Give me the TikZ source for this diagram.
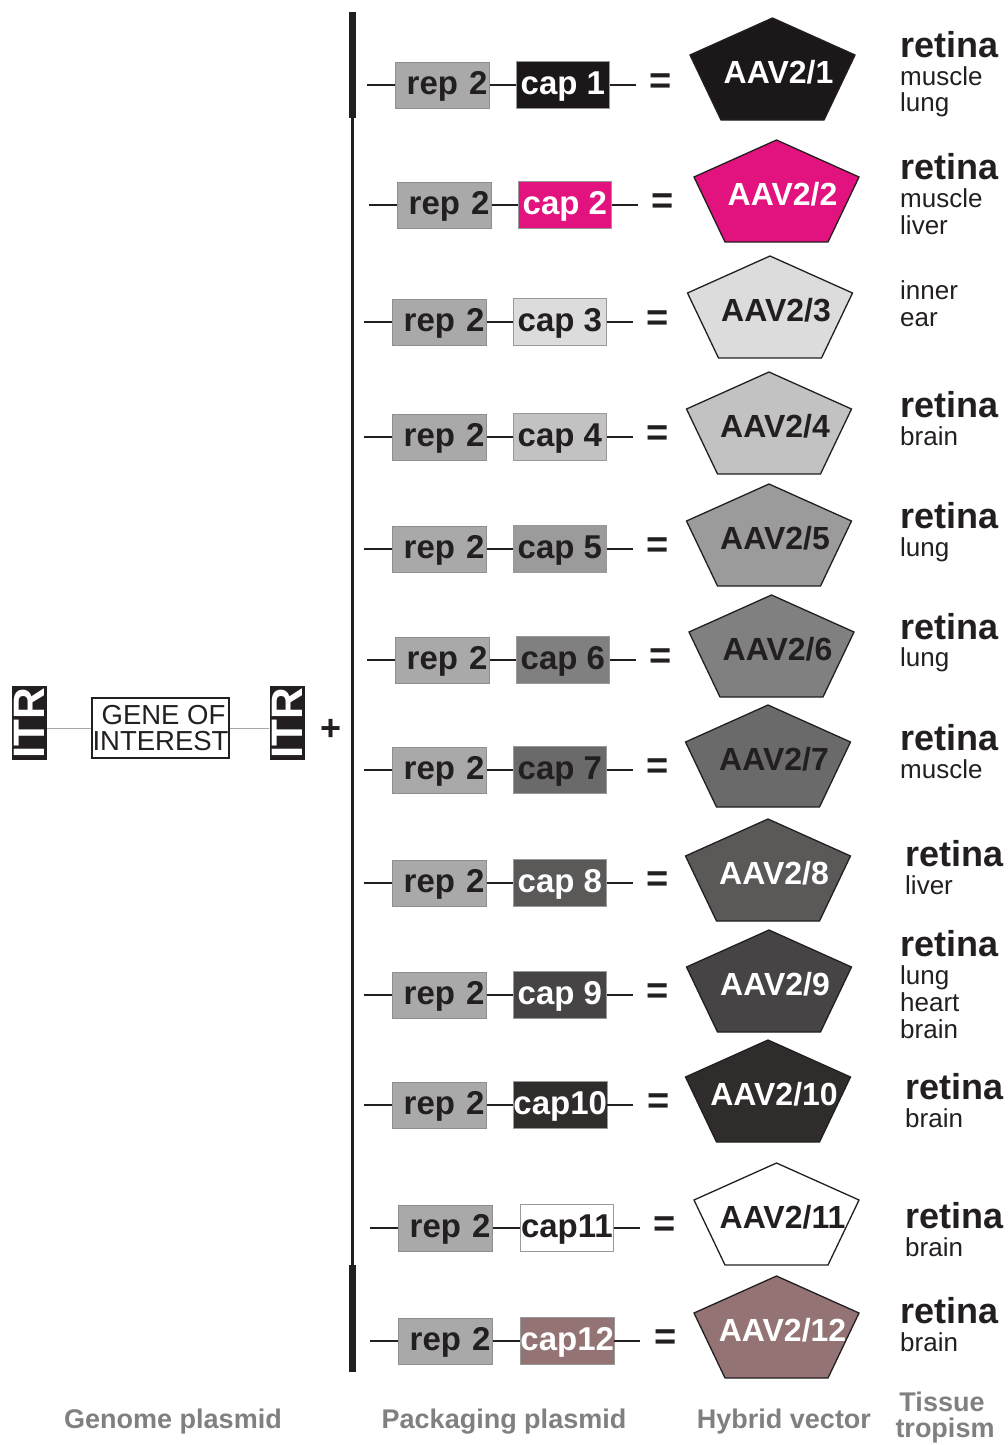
\documentclass[tikz,border=0pt]{standalone}
\usepackage{fontspec}
\setmainfont{Liberation Sans}
\usetikzlibrary{calc}

\definecolor{ink}{HTML}{231F20}
\definecolor{repgray}{HTML}{A9A9A9}
\definecolor{repedge}{HTML}{8E8E8E}
\definecolor{labelgray}{HTML}{808080}
\definecolor{cA}{HTML}{1C1819}
\definecolor{cB}{HTML}{E2137E}
\definecolor{cC}{HTML}{DCDCDC}
\definecolor{cD}{HTML}{C2C2C2}
\definecolor{cE}{HTML}{9B9B9B}
\definecolor{cF}{HTML}{808080}
\definecolor{cG}{HTML}{6A6A6A}
\definecolor{cH}{HTML}{5B5858}
\definecolor{cI}{HTML}{474445}
\definecolor{cJ}{HTML}{302C2B}
\definecolor{cK}{HTML}{FFFFFF}
\definecolor{cL}{HTML}{937373}

\newcommand\fs[1]{\fontsize{#1}{#1}\selectfont}

\tikzset{
  repbox/.style={draw=repedge, line width=0.8pt, fill=repgray, text=ink,
    minimum width=94pt, minimum height=46pt, inner sep=0pt,
    text width=90pt, align=right, text depth=4pt, font=\bfseries\fs{33}},
  capbox/.style={draw=black!40, line width=0.8pt,
    minimum width=93pt, minimum height=47pt, inner sep=0pt,
    text depth=4pt, font=\bfseries\fs{33}},
  wire/.style={draw=ink, line width=1.8pt},
  eqsign/.style={text=ink, inner sep=0pt, font=\bfseries\fs{38}},
  pent/.style={draw=ink, line width=1.3pt, line join=miter},
  vlabel/.style={inner sep=0pt, font=\bfseries\fs{32}},
  tisbig/.style={text=ink, inner sep=0pt, font=\bfseries\fs{36}},
  tissmall/.style={text=ink, inner sep=0pt, font=\fs{26}},
  itr/.style={fill=ink, text=white, rotate=90, inner sep=0pt,
    minimum width=74pt, minimum height=35pt, font=\bfseries\fs{44}},
  foot/.style={text=labelgray, inner sep=0pt, font=\bfseries\fs{27}},
}

% one packaging-plasmid row with its hybrid vector:
% #1 index, #2 row y, #3 rep left x, #4 cap left x, #5 capsid colour,
% #6 cap label, #7 text colour, #8 pentagon centre x, #9 pentagon top y
\newcommand\vrow[9]{%
  \node[repbox, anchor=west] (rep#1) at (#3,#2) {rep 2};
  \node[capbox, fill=#5, text=#7, anchor=west] (cap#1) at (#4,#2) {#6};
  \coordinate (in#1) at ($(rep#1.west)+(-28,0)$);
  \coordinate (out#1) at ($(cap#1.east)+(26,0)$);
  \draw[wire] (in#1) -- (rep#1.west);
  \draw[wire] (rep#1.east) -- (cap#1.west);
  \draw[wire] (cap#1.east) -- (out#1);
  \node[eqsign] (eq#1) at ($(cap#1.east)+(51,-1)$) {=};
  \draw[pent, fill=#5] (#8,#9) -- ++(82.5,37) -- ++(-31,65) -- ++(-103,0)
    -- ++(-31,-65) -- cycle;
  \node[vlabel, text=#7] (aav#1) at (#8+6,#9+54) {AAV2/#1};
}

\begin{document}
\begin{tikzpicture}[x=1pt, y=-1pt]
\useasboundingbox (0,0) rectangle (1007,1445);

% genome plasmid
\node[itr] (itrL) at (29.5,723) {ITR};
\node[draw=ink, line width=1.5pt, minimum width=137pt, minimum height=60pt,
  inner sep=0pt, align=center, text=ink, font=\fs{27.5}] (goi) at (160.5,728)
  {\hspace*{6pt}GENE OF\\[-2pt]INTEREST};
\node[itr] (itrR) at (287,723) {ITR};
\draw[labelgray!70, line width=1pt] (itrL.south |- goi.west) -- (goi.west);
\draw[labelgray!70, line width=1pt] (goi.east) -- (itrR.north |- goi.east);
\node[text=ink, inner sep=0pt, font=\bfseries\fs{36}] (plus) at (331,730) {+};

% bracket of the packaging plasmids
\fill[ink] (349,12) rectangle (356,118);
\fill[ink] (350.5,118) rectangle (354,1265);
\fill[ink] (349,1265) rectangle (356,1372);

\vrow{1}{85}{395}{516}{cA}{cap 1}{white}{772.5}{18}
\vrow{2}{205}{397}{518}{cB}{cap 2}{white}{776.5}{140}
\vrow{3}{322}{392}{513}{cC}{cap 3}{ink}{770}{256}
\vrow{4}{437}{392}{513}{cD}{cap 4}{ink}{769}{372}
\vrow{5}{549}{392}{513}{cE}{cap 5}{ink}{769}{484}
\vrow{6}{660}{395}{516}{cF}{cap 6}{ink}{771.5}{595}
\vrow{7}{770}{392}{513}{cG}{cap 7}{ink}{768}{705}
\vrow{8}{883}{392}{513}{cH}{cap 8}{white}{768}{819}
\vrow{9}{995}{392}{513}{cI}{cap 9}{white}{769}{930}
\vrow{10}{1105}{392}{513}{cJ}{cap10}{white}{768}{1040}
\vrow{11}{1228}{398}{520}{cK}{cap11}{ink}{776.5}{1163}
\vrow{12}{1341}{398}{520}{cL}{cap12}{white}{776.5}{1276}

% tissue tropism
\node[tisbig, anchor=base west] (t1a) at (900,57) {retina};
\node[tissmall, anchor=base west] (t1b) at (900,85) {muscle};
\node[tissmall, anchor=base west] (t1c) at (900,111) {lung};

\node[tisbig, anchor=base west] (t2a) at (900,179) {retina};
\node[tissmall, anchor=base west] (t2b) at (900,207) {muscle};
\node[tissmall, anchor=base west] (t2c) at (900,234) {liver};

\node[tissmall, anchor=base west] (t3a) at (900,299) {inner};
\node[tissmall, anchor=base west] (t3b) at (900,326) {ear};

\node[tisbig, anchor=base west] (t4a) at (900,417) {retina};
\node[tissmall, anchor=base west] (t4b) at (900,445) {brain};

\node[tisbig, anchor=base west] (t5a) at (900,528) {retina};
\node[tissmall, anchor=base west] (t5b) at (900,556) {lung};

\node[tisbig, anchor=base west] (t6a) at (900,639) {retina};
\node[tissmall, anchor=base west] (t6b) at (900,666) {lung};

\node[tisbig, anchor=base west] (t7a) at (900,750) {retina};
\node[tissmall, anchor=base west] (t7b) at (900,778) {muscle};

\node[tisbig, anchor=base west] (t8a) at (905,866) {retina};
\node[tissmall, anchor=base west] (t8b) at (905,894) {liver};

\node[tisbig, anchor=base west] (t9a) at (900,956) {retina};
\node[tissmall, anchor=base west] (t9b) at (900,984) {lung};
\node[tissmall, anchor=base west] (t9c) at (900,1011) {heart};
\node[tissmall, anchor=base west] (t9d) at (900,1038) {brain};

\node[tisbig, anchor=base west] (t10a) at (905,1099) {retina};
\node[tissmall, anchor=base west] (t10b) at (905,1127) {brain};

\node[tisbig, anchor=base west] (t11a) at (905,1228) {retina};
\node[tissmall, anchor=base west] (t11b) at (905,1256) {brain};

\node[tisbig, anchor=base west] (t12a) at (900,1323) {retina};
\node[tissmall, anchor=base west] (t12b) at (900,1351) {brain};

% column captions
\node[foot] (capGenome) at (173,1422) {Genome plasmid};
\node[foot] (capPack) at (504,1422) {Packaging plasmid};
\node[foot] (capHybrid) at (784,1422) {Hybrid vector};
\node[foot] (capTissue) at (942,1402) {Tissue};
\node[foot] (capTrop) at (945,1431) {tropism};
\end{tikzpicture}
\end{document}
